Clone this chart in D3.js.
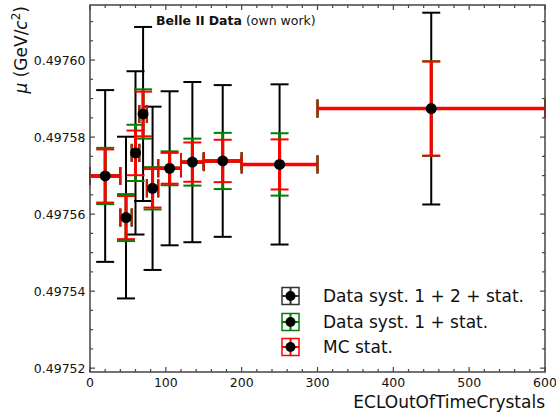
<!DOCTYPE html>
<html>
<head>
<meta charset="utf-8">
<script src="https://cdn.jsdelivr.net/npm/d3@7"></script>
<style>
  html, body { margin: 0; padding: 0; background: #fff; }
  svg { display: block; font-family: "DejaVu Sans", sans-serif; }
</style>
</head>
<body>
<svg id="chart" width="556" height="415"></svg>
<script>
// ---- data ----
const binLow  = [0, 40, 55, 65, 75, 90, 120, 150, 200, 300];
const binHigh = [40, 55, 65, 75, 90, 120, 150, 200, 300, 600];
const muValues = [0.4975699, 0.4975591, 0.4975759, 0.4975860, 0.4975667,
                  0.4975719, 0.4975735, 0.4975738, 0.4975729, 0.4975874];
// uncertainties (GeV/c^2)
const errTotal = [22.3e-6, 21.0e-6, 21.2e-6, 22.6e-6, 21.2e-6, 20.0e-6, 20.8e-6, 19.7e-6, 20.8e-6, 24.9e-6];
const errSyst1 = [7.3e-6, 6.1e-6, 7.3e-6, 6.4e-6, 5.5e-6, 4.4e-6, 6.1e-6, 7.3e-6, 8.1e-6, 12.3e-6];
const errMC    = [6.9e-6, 5.6e-6, 5.8e-6, 5.8e-6, 5.0e-6, 4.0e-6, 5.1e-6, 5.5e-6, 6.5e-6, 12.2e-6];
const xTickValues = [0, 100, 200, 300, 400, 500, 600];
const yTickValues = [0.49752, 0.49754, 0.49756, 0.49758, 0.49760];
const legendLabels = ["Data syst. 1 + 2 + stat.", "Data syst. 1 + stat.", "MC stat."];
const seriesColors = ["#000000", "#008000", "#ff0000"];

// ---- layout ----
const svg = d3.select("#chart");
const L = 90, R = 545, T = 5, B = 372;
const x = d3.scaleLinear().domain([0, 600]).range([L, R]);
const y = d3.scaleLinear().domain([0.497519, 0.4976143]).range([B, T]);

const points = muValues.map((m, i) => ({
  lo: binLow[i], hi: binHigh[i], c: (binLow[i] + binHigh[i]) / 2, m,
  e: [errTotal[i], errSyst1[i], errMC[i]]
}));

const plot = svg.append("g");
const cap = 9;

// error bars: black (total), green (syst1+stat), red (MC stat)
[0, 1, 2].forEach(s => {
  const col = seriesColors[s];
  const g = plot.append("g");
  const lw = s === 0 ? 2 : 3;
  const hCapOpacity = s === 2 ? 0.8 : 1;
  points.forEach(p => {
    const cx = x(p.c), cy = y(p.m);
    const y1 = y(p.m + p.e[s]), y2 = y(p.m - p.e[s]);
    const xl = x(p.lo), xr = x(p.hi);
    // horizontal bar
    g.append("line").attr("x1", xl).attr("x2", xr).attr("y1", cy).attr("y2", cy)
      .attr("stroke", col).attr("stroke-width", s === 2 ? 3.5 : 3);
    // vertical bar
    g.append("line").attr("x1", cx).attr("x2", cx).attr("y1", y1).attr("y2", y2)
      .attr("stroke", col).attr("stroke-width", lw);
    // caps
    [y1, y2].forEach(yy => g.append("line")
      .attr("x1", cx - cap).attr("x2", cx + cap).attr("y1", yy).attr("y2", yy)
      .attr("stroke", col).attr("stroke-width", 2));
    [xl, xr].forEach(xx => g.append("line")
      .attr("x1", xx).attr("x2", xx).attr("y1", cy - cap).attr("y2", cy + cap)
      .attr("stroke", col).attr("stroke-width", 2).attr("stroke-opacity", hCapOpacity));
  });
});

// markers
plot.append("g").selectAll("circle").data(points).join("circle")
  .attr("cx", d => x(d.c)).attr("cy", d => y(d.m)).attr("r", 5.5).attr("fill", "#000");

// ---- axes frame and ticks (inward, all four sides) ----
const axisCol = "#444";
const frame = svg.append("g");
frame.append("rect").attr("x", L).attr("y", T).attr("width", R - L).attr("height", B - T)
  .attr("fill", "none").attr("stroke", axisCol).attr("stroke-width", 1.5);

const xMinor = d3.range(0, 601, 20).filter(v => v % 100 !== 0);
const yMinor = d3.range(0, 21).map(i => 0.49752 + i * 0.000005)
  .filter(v => v <= 0.4976143 && yTickValues.every(t => Math.abs(t - v) > 1e-9));

function tick(x1, y1, x2, y2) {
  frame.append("line").attr("x1", x1).attr("y1", y1).attr("x2", x2).attr("y2", y2)
    .attr("stroke", axisCol).attr("stroke-width", 1.2);
}
xTickValues.forEach(v => { tick(x(v), B, x(v), B - 5); tick(x(v), T, x(v), T + 5); });
xMinor.forEach(v => { tick(x(v), B, x(v), B - 3); tick(x(v), T, x(v), T + 3); });
yTickValues.forEach(v => { tick(L, y(v), L + 5, y(v)); tick(R, y(v), R - 5, y(v)); });
yMinor.forEach(v => { tick(L, y(v), L + 3, y(v)); tick(R, y(v), R - 3, y(v)); });

// tick labels
frame.selectAll(".xl").data(xTickValues).join("text")
  .attr("x", d => x(d)).attr("y", 387).attr("text-anchor", "middle")
  .attr("font-size", 12.5).attr("fill", "#111").text(d => d);
frame.selectAll(".yl").data(yTickValues).join("text")
  .attr("x", 85.5).attr("y", d => y(d)).attr("dy", "0.36em").attr("text-anchor", "end")
  .attr("font-size", 12.5).attr("fill", "#111").text(d => d3.format(".5f")(d));

// axis titles
svg.append("text").attr("x", R).attr("y", 408).attr("text-anchor", "end")
  .attr("font-size", 17).attr("fill", "#111").text("ECLOutOfTimeCrystals");

const yt = svg.append("text").attr("transform", "translate(27,6) rotate(-90)")
  .attr("text-anchor", "end").attr("font-size", 17).attr("fill", "#111");
yt.append("tspan").attr("font-style", "italic").text("μ");
yt.append("tspan").text(" (GeV/");
yt.append("tspan").attr("font-style", "italic").text("c");
yt.append("tspan").attr("font-size", 12).attr("dy", -7).text("2");
yt.append("tspan").attr("dy", 7).text(")");

// Belle II label
const bl = svg.append("text").attr("x", 156).attr("y", 25).attr("font-size", 12.5).attr("fill", "#111");
bl.append("tspan").attr("font-weight", "bold").text("Belle II");
bl.append("tspan").attr("font-weight", "bold").attr("dx", 4).text("Data");
bl.append("tspan").text(" (own work)");

// ---- legend ----
const legY = [296, 322, 347];
const lg = svg.append("g");
legendLabels.forEach((lab, i) => {
  const cx = 290.5, cy = legY[i], h = 8.5, col = seriesColors[i];
  const c = i === 0 ? "#333" : col;
  lg.append("rect").attr("x", cx - h).attr("y", cy - h).attr("width", 2 * h).attr("height", 2 * h)
    .attr("fill", "none").attr("stroke", c).attr("stroke-width", 1.5);
  lg.append("line").attr("x1", cx - h).attr("x2", cx + h).attr("y1", cy).attr("y2", cy)
    .attr("stroke", c).attr("stroke-width", 2);
  lg.append("line").attr("x1", cx).attr("x2", cx).attr("y1", cy - h).attr("y2", cy + h)
    .attr("stroke", c).attr("stroke-width", 2);
  lg.append("circle").attr("cx", cx).attr("cy", cy).attr("r", 5).attr("fill", "#000");
  lg.append("text").attr("x", 323).attr("y", cy + 6).attr("font-size", 17).attr("fill", "#111").text(lab);
});
</script>
</body>
</html>
